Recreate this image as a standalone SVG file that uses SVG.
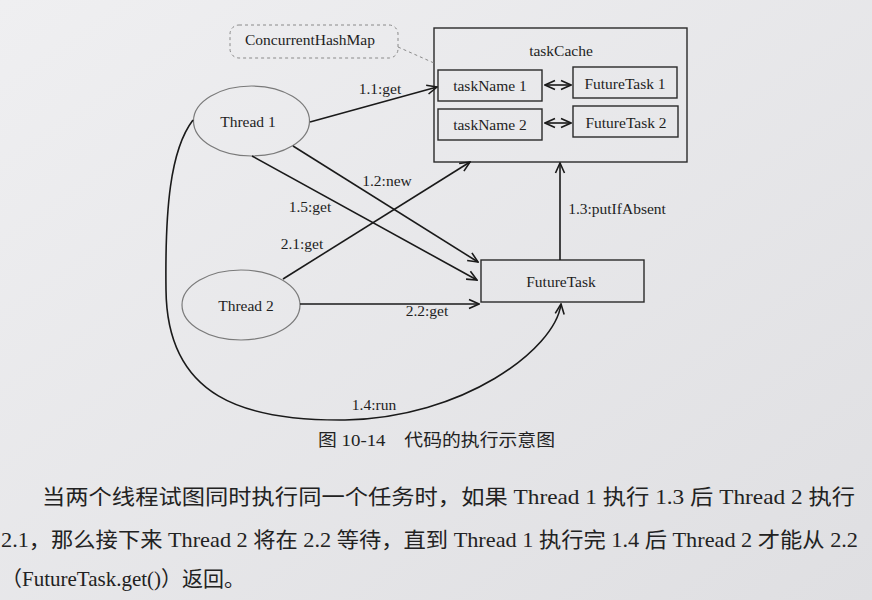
<svg xmlns="http://www.w3.org/2000/svg" width="872" height="600" viewBox="0 0 872 600">
<defs>
<linearGradient id="paper" x1="0" y1="0" x2="1" y2="1">
<stop offset="0" stop-color="#efeff1"/>
<stop offset="1" stop-color="#dfdfe2"/>
</linearGradient>
<marker id="arr" viewBox="0 0 12 12" refX="11" refY="6" markerWidth="12" markerHeight="12" markerUnits="userSpaceOnUse" orient="auto-start-reverse">
<path d="M1,1.5 L11,6 L1,10.5" fill="none" stroke="#1a1a1a" stroke-width="1.6"/>
</marker>
<style>
.t{font-family:"Liberation Serif","Times New Roman",serif;font-size:15.5px;fill:#1e1e1e;text-anchor:middle}
.box{fill:none;stroke:#2a2a2a;stroke-width:1.4}
.ell{fill:none;stroke:#7a7a7a;stroke-width:1.2}
.ln{fill:none;stroke:#1a1a1a;stroke-width:1.6}
.cn{font-family:"Liberation Serif","Noto Sans CJK SC",serif;fill:#222}
</style>
</defs>
<rect width="872" height="600" fill="url(#paper)"/>

<g id="concurrentHashMap">
<rect x="230" y="25" width="168" height="33" rx="9" fill="none" stroke="#8a8a8a" stroke-width="1" stroke-dasharray="3,3"/>
<text class="t" x="310" y="45">ConcurrentHashMap</text>
</g>

<g id="taskCache">
<rect class="box" x="434" y="28" width="253" height="134"/>
<text class="t" x="561" y="56">taskCache</text>
</g>
<g id="taskName1">
<rect class="box" x="438" y="70" width="104" height="31"/>
<text class="t" x="490" y="91">taskName 1</text>
</g>
<g id="futureTask1">
<rect class="box" x="573" y="67" width="104" height="31"/>
<text class="t" x="625" y="89">FutureTask 1</text>
</g>
<g id="taskName2">
<rect class="box" x="438" y="109" width="104" height="31"/>
<text class="t" x="490" y="130">taskName 2</text>
</g>
<g id="futureTask2">
<rect class="box" x="573" y="106" width="105" height="31"/>
<text class="t" x="626" y="128">FutureTask 2</text>
</g>

<g id="thread1">
<ellipse class="ell" cx="251.5" cy="121" rx="58" ry="35"/>
<text class="t" x="248" y="127">Thread 1</text>
</g>
<g id="thread2">
<ellipse class="ell" cx="241" cy="305" rx="59" ry="35"/>
<text class="t" x="246" y="311">Thread 2</text>
</g>
<g id="futureTask">
<rect class="box" x="481" y="260" width="163" height="42"/>
<text class="t" x="561" y="287">FutureTask</text>
</g>

<g id="connectors">
<line x1="398" y1="47" x2="434" y2="63" stroke="#8a8a8a" stroke-width="1" stroke-dasharray="3,3"/>
<line class="ln" x1="545" y1="85" x2="571" y2="85" marker-start="url(#arr)" marker-end="url(#arr)"/>
<line class="ln" x1="545" y1="123" x2="571" y2="123" marker-start="url(#arr)" marker-end="url(#arr)"/>
<line class="ln" x1="310" y1="122" x2="437" y2="87" marker-end="url(#arr)"/>
<line class="ln" x1="293" y1="146" x2="478" y2="262" marker-end="url(#arr)"/>
<line class="ln" x1="252" y1="156" x2="477" y2="280" marker-end="url(#arr)"/>
<line class="ln" x1="283" y1="279" x2="470" y2="162" marker-end="url(#arr)"/>
<line class="ln" x1="300" y1="304" x2="479" y2="304" marker-end="url(#arr)"/>
<line class="ln" x1="560" y1="260" x2="560" y2="163" marker-end="url(#arr)"/>
<path class="ln" d="M193,120 C170,150 165,210 166,290 C167,398 245,421 345,420 C462,418 555,350 561,304" marker-end="url(#arr)"/>
<text class="t" x="380" y="94">1.1:get</text>
<text class="t" x="387" y="186">1.2:new</text>
<text class="t" x="310" y="212">1.5:get</text>
<text class="t" x="302" y="249">2.1:get</text>
<text class="t" x="617" y="214">1.3:putIfAbsent</text>
<text class="t" x="427" y="316">2.2:get</text>
<text class="t" x="374" y="410">1.4:run</text>
</g>

<text class="cn" x="318" y="446" font-size="17" textLength="237" lengthAdjust="spacingAndGlyphs">图 10-14　代码的执行示意图</text>
<text class="cn" x="42" y="504" font-size="21" textLength="813" lengthAdjust="spacingAndGlyphs">当两个线程试图同时执行同一个任务时，如果 Thread 1 执行 1.3 后 Thread 2 执行</text>
<text class="cn" x="1" y="547" font-size="21" textLength="857" lengthAdjust="spacingAndGlyphs">2.1，那么接下来 Thread 2 将在 2.2 等待，直到 Thread 1 执行完 1.4 后 Thread 2 才能从 2.2</text>
<text class="cn" x="1" y="586" font-size="21" textLength="244" lengthAdjust="spacingAndGlyphs">（FutureTask.get()）返回。</text>
</svg>
